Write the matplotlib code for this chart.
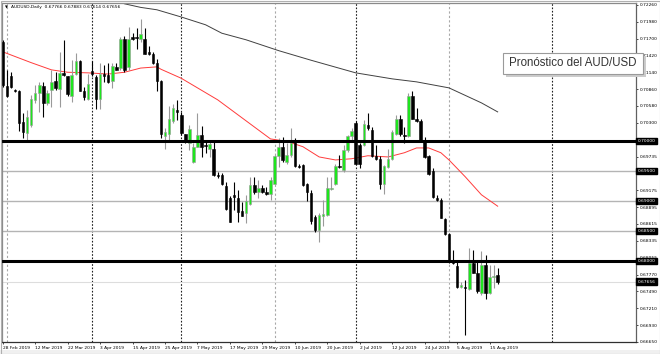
import matplotlib.pyplot as plt
from matplotlib.patches import Rectangle
import matplotlib.transforms as mtransforms

# daily AUDUSD candles, 28 Feb 2019 .. 19 Aug 2019 (bar index = trading day)
opens = [0.7164, 0.7091, 0.7108, 0.7085, 0.7083, 0.7031, 0.7013, 0.7026, 0.7067, 0.7079,
         0.7091, 0.7063, 0.7084, 0.7099, 0.7086, 0.7113, 0.7107, 0.7074, 0.7111, 0.7133,
         0.7082, 0.7069, 0.7116, 0.7106, 0.7069, 0.7111, 0.7109, 0.7099, 0.7123, 0.7121,
         0.7169, 0.7123, 0.7172, 0.7173, 0.7169, 0.7169, 0.7147, 0.7145, 0.7129, 0.7100,
         0.7008, 0.7012, 0.7033, 0.7051, 0.7043, 0.7011, 0.6997, 0.6965, 0.6990, 0.7010,
         0.6992, 0.6987, 0.6987, 0.6943, 0.6943, 0.6925, 0.6905, 0.6909, 0.6905, 0.6883,
         0.6880, 0.6895, 0.6926, 0.6915, 0.6922, 0.6915, 0.6911, 0.6928, 0.6975, 0.6989,
         0.6965, 0.6976, 0.7001, 0.6958, 0.6960, 0.6928, 0.6913, 0.6873, 0.6852, 0.6875,
         0.6876, 0.6919, 0.6928, 0.6958, 0.6951, 0.6985, 0.7008, 0.7029, 0.6993, 0.6993,
         0.7027, 0.7018, 0.6975, 0.6970, 0.6928, 0.6956, 0.6969, 0.7012, 0.7036, 0.7010,
         0.7008, 0.7074, 0.7037, 0.7033, 0.7002, 0.6975, 0.6949, 0.6904, 0.6901, 0.6869,
         0.6845, 0.6799, 0.6791, 0.6756, 0.6756, 0.6753, 0.6797, 0.6780, 0.6747, 0.6793,
         0.6747, 0.6773, 0.67766]
highs = [0.7168, 0.7118, 0.7114, 0.7086, 0.7084, 0.7046, 0.7051, 0.7076, 0.7093, 0.7097,
         0.7097, 0.7084, 0.7118, 0.7115, 0.7148, 0.7167, 0.7108, 0.7134, 0.7146, 0.7134,
         0.7090, 0.7111, 0.7132, 0.7109, 0.7129, 0.7126, 0.7129, 0.7129, 0.7129, 0.7173,
         0.7174, 0.7190, 0.7180, 0.7188, 0.7202, 0.7187, 0.7157, 0.7148, 0.7136, 0.7101,
         0.7021, 0.7057, 0.7061, 0.7068, 0.7048, 0.7012, 0.7026, 0.6997, 0.7046, 0.7024,
         0.7001, 0.6998, 0.6998, 0.6948, 0.6946, 0.6931, 0.6908, 0.6932, 0.6918, 0.6898,
         0.6910, 0.6940, 0.6939, 0.6935, 0.6926, 0.6923, 0.6940, 0.6977, 0.7004, 0.7006,
         0.6996, 0.7021, 0.7004, 0.6962, 0.6962, 0.6929, 0.6918, 0.6876, 0.6879, 0.6901,
         0.6940, 0.6939, 0.6961, 0.6976, 0.6993, 0.7010, 0.7021, 0.7033, 0.6996, 0.7034,
         0.7046, 0.7023, 0.6993, 0.6975, 0.6960, 0.6987, 0.7018, 0.7043, 0.7043, 0.7023,
         0.7079, 0.7082, 0.7054, 0.7036, 0.7006, 0.6976, 0.6954, 0.6910, 0.6904, 0.6872,
         0.6847, 0.6818, 0.6801, 0.6765, 0.6768, 0.6821, 0.6818, 0.6799, 0.6817, 0.6810,
         0.6793, 0.6793, 0.67883]
lows = [0.7090, 0.7073, 0.7088, 0.7081, 0.7016, 0.7004, 0.7001, 0.7023, 0.7063, 0.7047,
        0.7040, 0.7060, 0.7056, 0.7084, 0.7056, 0.7108, 0.7074, 0.7065, 0.7109, 0.7082,
        0.7068, 0.7068, 0.7107, 0.7052, 0.7052, 0.7097, 0.7096, 0.7087, 0.7117, 0.7118,
        0.7115, 0.7118, 0.7168, 0.7153, 0.7165, 0.7144, 0.7143, 0.7128, 0.7082, 0.7004,
        0.6987, 0.7002, 0.7029, 0.7034, 0.7010, 0.6997, 0.6985, 0.6963, 0.6989, 0.6973,
        0.6979, 0.6973, 0.6941, 0.6938, 0.6926, 0.6885, 0.6864, 0.6885, 0.6865, 0.6874,
        0.6863, 0.6893, 0.6912, 0.6904, 0.6913, 0.6910, 0.6901, 0.6928, 0.6956, 0.6965,
        0.6962, 0.6973, 0.6957, 0.6955, 0.6925, 0.6900, 0.6861, 0.6848, 0.6832, 0.6858,
        0.6875, 0.6918, 0.6926, 0.6954, 0.6948, 0.6982, 0.6998, 0.6961, 0.6954, 0.6991,
        0.7018, 0.6973, 0.6968, 0.6919, 0.6911, 0.6954, 0.6968, 0.7010, 0.7008, 0.6996,
        0.7007, 0.7036, 0.7032, 0.7001, 0.6972, 0.6943, 0.6904, 0.6900, 0.6871, 0.6843,
        0.6797, 0.6795, 0.6754, 0.6754, 0.6677, 0.6752, 0.6779, 0.6746, 0.6743, 0.6736,
        0.6745, 0.6754, 0.67614]
closes = [0.7093, 0.7074, 0.7090, 0.7083, 0.7029, 0.7014, 0.7040, 0.7069, 0.7079, 0.7093,
          0.7063, 0.7079, 0.7098, 0.7087, 0.7113, 0.7109, 0.7078, 0.7109, 0.7133, 0.7083,
          0.7073, 0.7094, 0.7111, 0.7069, 0.7111, 0.7108, 0.7098, 0.7124, 0.7118, 0.7169,
          0.7118, 0.7169, 0.7170, 0.7171, 0.7178, 0.7145, 0.7144, 0.7129, 0.7100, 0.7011,
          0.7014, 0.7037, 0.7054, 0.7047, 0.7013, 0.7000, 0.7019, 0.6990, 0.7010, 0.6989,
          0.6991, 0.6994, 0.6943, 0.6941, 0.6928, 0.6887, 0.6865, 0.6907, 0.6882, 0.6875,
          0.6900, 0.6926, 0.6915, 0.6922, 0.6915, 0.6911, 0.6935, 0.6975, 0.6989, 0.6968,
          0.6976, 0.6996, 0.6958, 0.6956, 0.6926, 0.6915, 0.6867, 0.6851, 0.6876, 0.6878,
          0.6922, 0.6922, 0.6958, 0.6956, 0.6985, 0.7008, 0.7017, 0.6962, 0.6961, 0.7028,
          0.7021, 0.6975, 0.6970, 0.6928, 0.6958, 0.6969, 0.7015, 0.7037, 0.7011, 0.7008,
          0.7074, 0.7037, 0.7033, 0.7002, 0.6973, 0.6945, 0.6906, 0.6901, 0.6872, 0.6845,
          0.6799, 0.6796, 0.6756, 0.6760, 0.6754, 0.6797, 0.6780, 0.6749, 0.6793, 0.6747,
          0.6773, 0.6775, 0.67656]

# moving averages (bar index, price)
red_ma_bars = [0, 7, 12, 16, 21, 26, 30, 34, 38, 39, 44, 49, 53, 58, 62, 66, 70, 74, 78,
               82, 86, 90, 95, 99, 102, 105, 108, 110, 114, 118, 122]
red_ma = [0.7148, 0.7130, 0.7118, 0.7114, 0.7113, 0.7111, 0.7114, 0.7121, 0.7123, 0.7119,
          0.7104, 0.7084, 0.7068, 0.7043, 0.7023, 0.7003, 0.6999, 0.6990, 0.6973,
          0.6968, 0.6970, 0.6975, 0.6973, 0.6980, 0.6988, 0.6988, 0.6980, 0.6968, 0.6940, 0.6910, 0.6891]
black_ma_bars = [30, 34, 38, 44, 50, 54, 60, 68, 76, 87, 96, 102, 110, 118, 122]
black_ma = [0.7228, 0.7222, 0.7218, 0.7206, 0.7193, 0.7179, 0.7168, 0.7150, 0.7134,
            0.7113, 0.7103, 0.7098, 0.7088, 0.7063, 0.7048]

# levels
thick_levels = [0.7000, 0.6800]
thin_levels = [0.6950, 0.6900, 0.6850]
marked_levels = [0.7000, 0.6950, 0.6900, 0.6850, 0.6800]

# axis labels
price_ticks = [0.72260, 0.71980, 0.71700, 0.71420, 0.71140, 0.70860, 0.70580, 0.70300,
               0.69735, 0.69455, 0.69175, 0.68895, 0.68615, 0.68335, 0.68055, 0.67770,
               0.67490, 0.67210, 0.66930, 0.66650]
date_bars = [0, 8, 16, 24, 32, 40, 48, 56, 64, 72, 80, 88, 96, 104, 112, 120]
date_labels = ["28 Feb 2019", "12 Mar 2019", "22 Mar 2019", "3 Apr 2019", "15 Apr 2019",
               "25 Apr 2019", "7 May 2019", "17 May 2019", "29 May 2019", "10 Jun 2019",
               "20 Jun 2019", "2 Jul 2019", "12 Jul 2019", "24 Jul 2019", "5 Aug 2019",
               "15 Aug 2019"]
sep_gray = [1, 67, 110]
sep_dark = [22, 44, 87, 135.4]

small = 3.2

fig = plt.figure(figsize=(6.6, 3.54), dpi=100)
ax = fig.add_axes([2 / 660, 1 - 342 / 354, 634 / 660, 339 / 354])
ax.set_xlim(-0.19, 156.1)
ax.set_ylim(0.66649, 0.72293)

# separators
for b in sep_gray:
    ax.axvline(b, color='#a8a8a8', lw=0.8, ls=(0, (2, 2)), zorder=1)
for b in sep_dark:
    ax.axvline(b, color='#202020', lw=0.8, ls=(0, (1.5, 1.5)), zorder=1)

# horizontal levels
for lv in thin_levels:
    ax.axhline(lv, color='#b4b4b4', lw=1.0, zorder=1)
ax.axhline(closes[-1], color='#dddddd', lw=0.8, zorder=1)
for lv in thick_levels:
    ax.axhline(lv, color='black', lw=2.2, zorder=5)

# moving averages
ax.plot(red_ma_bars, red_ma, color='#ff3b3b', lw=0.7, zorder=2)
ax.plot(black_ma_bars, black_ma, color='#404040', lw=0.7, zorder=2)

# candles
for i in range(len(opens)):
    o, h, l, c = opens[i], highs[i], lows[i], closes[i]
    bull = c > o
    wick_col = '#9a9a9a' if bull else 'black'
    ax.vlines(i, l, h, color=wick_col, lw=0.8, zorder=3)
    body = max(abs(c - o), 0.00018)
    ax.bar(i, body, bottom=min(o, c), width=0.62,
           color='#1ee61e' if bull else 'black',
           edgecolor='#9a9a9a' if bull else 'black', lw=0.4, zorder=4)

# axes look
for s in ['left', 'top']:
    ax.spines[s].set_color('#8a8a8a')
ax.spines['right'].set_color('#606060')
ax.spines['bottom'].set_color('#303030')
for s in ax.spines.values():
    s.set_linewidth(0.9)

ax.yaxis.tick_right()
ax.set_yticks(price_ticks)
ax.set_yticklabels([f"{p:.5f}" for p in price_ticks], fontsize=small)
ax.tick_params(axis='y', length=1.5, width=0.5, pad=1.5)
ax.set_xticks(date_bars)
ax.set_xticklabels(date_labels, fontsize=small, ha='left')
ax.tick_params(axis='x', length=1.5, width=0.5, pad=1.5)

# highlighted price labels on the right
trans = mtransforms.blended_transform_factory(ax.transAxes, ax.transData)
for lv in marked_levels + [closes[-1]]:
    ax.text(1.0025, lv, f"{lv:.5f}", transform=trans, fontsize=small, color='white',
            va='center', ha='left', zorder=10, clip_on=False,
            bbox=dict(boxstyle='square,pad=0.25', fc='black', ec='black'))

# header
ax.text(0.004, 0.994, "\u25bc", transform=ax.transAxes, fontsize=2.8, va='top', ha='left')
ax.text(0.014, 0.994,
        f"AUDUSD,Daily  {opens[-1]:.5f} {highs[-1]:.5f} {lows[-1]:.5f} {closes[-1]:.5f}",
        transform=ax.transAxes, fontsize=small, va='top', ha='left')

# title box
fig.patches.append(Rectangle((506 / 660, 1 - 77 / 354), 140 / 660, 21 / 354,
                             transform=fig.transFigure, fc='#cccccc', ec='none', zorder=20))
fig.patches.append(Rectangle((503 / 660, 1 - 74 / 354), 140 / 660, 21 / 354,
                             transform=fig.transFigure, fc='white', ec='#9a9a9a', lw=0.8, zorder=21))
fig.text(573 / 660, 1 - 63.5 / 354, "Pronóstico del AUD/USD", fontsize=8.3,
         family='Liberation Sans', color='#333333', ha='center', va='center', zorder=22)

# outer frame and bottom strip
fig.patches.append(Rectangle((0, 0), 1, 4 / 354, transform=fig.transFigure,
                             fc='#f0f0f0', ec='none', zorder=0))
fig.patches.append(Rectangle((0.5 / 660, 0.5 / 354), 659 / 660, 353 / 354, transform=fig.transFigure,
                             fc='none', ec='#b0b0b0', lw=0.8, zorder=30))

fig.savefig('out.png', dpi=100)
